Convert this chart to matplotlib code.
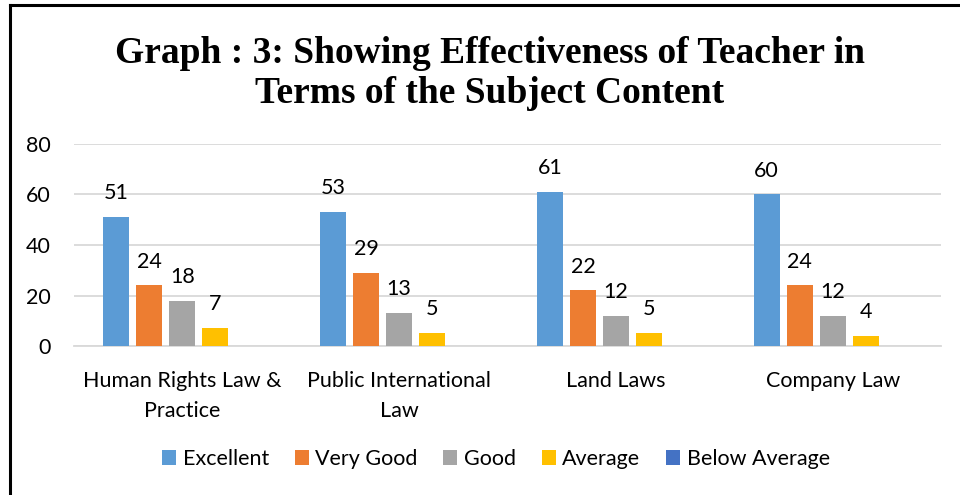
import matplotlib.pyplot as plt
import numpy as np
from matplotlib.lines import Line2D

# ---- DATA ----
categories = ["Human Rights Law &\nPractice", "Public International\nLaw", "Land Laws", "Company Law"]
series_names = ["Excellent", "Very Good", "Good", "Average", "Below Average"]
excellent = [51, 53, 61, 60]
very_good = [24, 29, 22, 24]
good = [18, 13, 12, 12]
average = [7, 5, 5, 4]
below_average = [0, 0, 0, 0]

colors = ["#5b9bd5", "#ed7d31", "#a5a5a5", "#ffc000", "#4472c4"]
series = [excellent, very_good, good, average, below_average]

plt.rcParams["font.family"] = ["Lato", "DejaVu Sans"]
FS = 15.5

fig = plt.figure(figsize=(9.6, 4.95), dpi=100)
ax = fig.add_axes([74 / 960, 1 - 346 / 495, 867 / 960, 202 / 495])

x = np.arange(len(categories))
width = 0.12
step = 0.152
for i, (name, vals) in enumerate(zip(series_names, series)):
    bars = ax.bar(x + (i - 2) * step, vals, width, color=colors[i], label=name, zorder=3)
    for b, v in zip(bars, vals):
        if v > 0:
            ax.text(b.get_x() + b.get_width() / 2, v + 5.5, str(v),
                    ha="center", va="bottom", fontsize=FS, color="#000000")

ax.set_xlim(-0.5, 3.5)
ax.set_ylim(0, 80)
ax.set_yticks([0, 20, 40, 60, 80])
ax.yaxis.grid(True, color="#d9d9d9", linewidth=1.3, zorder=0)
ax.tick_params(axis="y", length=0, labelsize=FS, pad=17)
ax.tick_params(axis="x", length=0, labelsize=FS, pad=18)
ax.set_xticks(x)
ax.set_xticklabels(categories, linespacing=1.65)
for s in ["top", "right", "left"]:
    ax.spines[s].set_visible(False)
ax.spines["bottom"].set_color("#d9d9d9")
ax.spines["bottom"].set_linewidth(1.3)

fig.text(490 / 960, 1 - 103 / 495, "Graph : 3: Showing Effectiveness of Teacher in\nTerms of the Subject Content",
         ha="center", va="baseline", fontsize=27, fontweight="bold",
         family=["Liberation Serif", "DejaVu Serif"], linespacing=1.17)

fig.legend(loc="center", bbox_to_anchor=(496 / 960, 1 - 459 / 495), ncol=5,
           frameon=False, fontsize=FS, handlelength=0.65, handleheight=0.65,
           handletextpad=0.3, columnspacing=1.2)

# frame: only top and left edges are visible in the source
fx = 9.5 / 960
fy = 1 - 5 / 495
fig.add_artist(Line2D([fx, 1], [fy, fy], transform=fig.transFigure, color="#000000", linewidth=2.2))
fig.add_artist(Line2D([fx, fx], [0, fy], transform=fig.transFigure, color="#000000", linewidth=2.2))

fig.savefig("out.png", dpi=100)
